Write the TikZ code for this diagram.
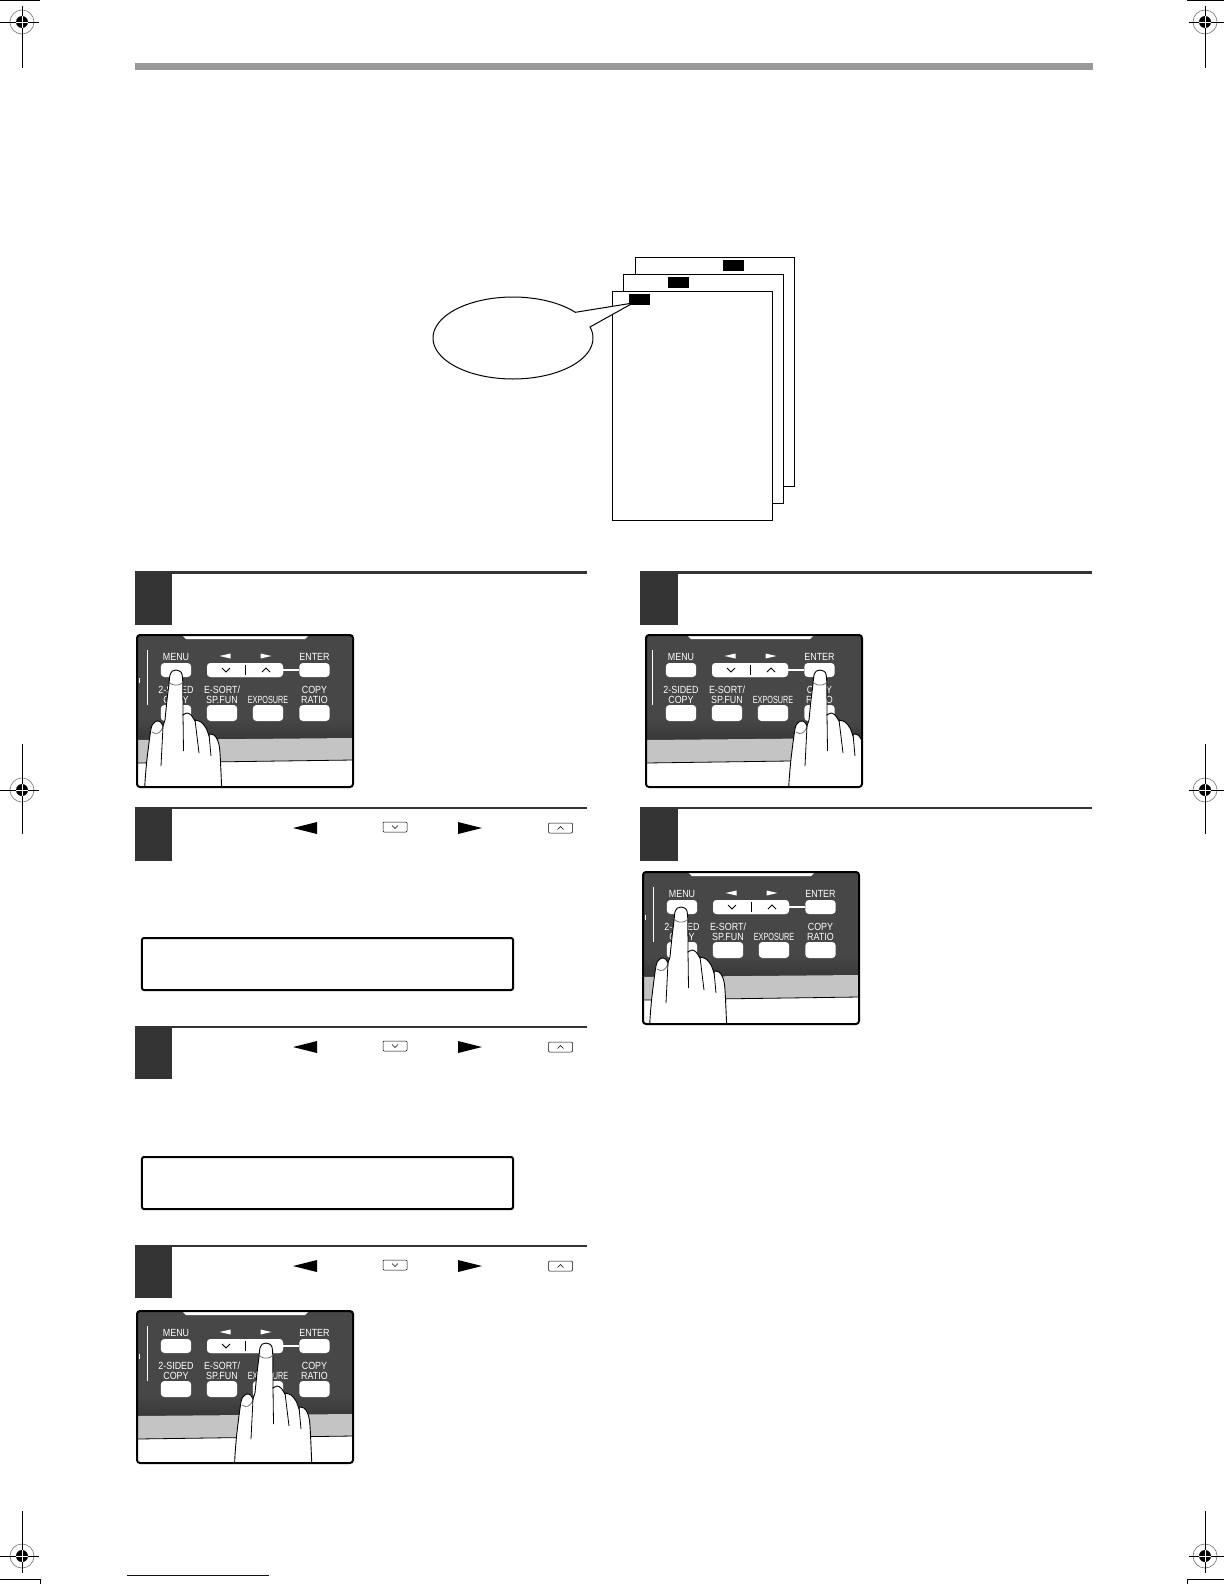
\documentclass[tikz,border=0pt]{standalone}
\usepackage{fontspec}
\setmainfont{Liberation Sans}
\newfontfamily\panelfont[FakeStretch=.86]{Liberation Sans}
\newfontfamily\exposurefont[FakeStretch=.70]{Liberation Sans}
\definecolor{paneldark}{HTML}{474747}
\definecolor{panelshade}{HTML}{383838}
\definecolor{panelband}{HTML}{C4C4C4}
\definecolor{stepdark}{HTML}{333333}
\definecolor{footblue}{HTML}{000080}
\tikzset{
  paneltext/.style={text=white,inner sep=0,align=center,font=\panelfont\fontsize{5.2}{5}\selectfont},
  panelkey/.style={fill=white,inner sep=0,rounded corners=1.8bp,minimum width=15.2bp,minimum height=7bp},
  panelkeylow/.style={panelkey,minimum height=8bp},
  keyicon/.style={draw,line width=.25bp,fill=white,inner sep=0,rounded corners=.5bp,minimum width=12bp,minimum height=5bp},
  sheet/.style={draw,line width=.5bp,fill=white},
  thinrule/.style={stepdark,line width=1bp},
  thickrule/.style={stepdark,line width=1.5bp},
  lcdbox/.style={draw,line width=1bp,fill=white,inner sep=0,rounded corners=1bp,minimum width=185.5bp,minimum height=26bp},
}
% panel: name, x, y, finger x, finger y, offset of the keys
\newcommand{\ctrlpanel}[6]{
\begin{scope}[shift={(#2,#3)}]
\begin{scope}
\clip [rounded corners=1.5bp] (0,0) rectangle (216,152);
\fill [white] (0,0) rectangle (216,152);
\fill [paneldark] (0,0) rectangle (216,104);
\shade [top color=paneldark,bottom color=panelshade] (0,84) rectangle (216,104.5);
\fill [panelband] (0,105) -- (216,103) -- (216,125) -- (0,128) -- cycle;
\draw [line width=.4bp] (0,128) -- (216,125);
\begin{scope}[shift={(#6,0)}]
\fill [white] (45,0) -- (172,0) -- (168,4) -- (49,4) -- cycle;
\draw [white,line width=.5bp] (10,15) -- (10,70);
\draw [white,line width=.5bp] (2.5,43) -- (2.5,48);
\node [panelkey]    (#1menu)  at ( 39,35) {};
\node [panelkey,minimum width=38bp] (#1wide) at (108,35) {};
\node [panelkey]    (#1enter) at (177.5,35) {};
\node [panelkeylow] (#1two)   at ( 39,78) {};
\node [panelkeylow] (#1sort)  at ( 85,78) {};
\node [panelkeylow] (#1expo)  at (131,78) {};
\node [panelkeylow] (#1ratio) at (177.5,78) {};
\draw [white,line width=.6bp] (#1wide) -- (#1enter);
\node [panelkey,minimum width=38bp] at (#1wide) {};
\draw [line width=.5bp] (108,30) -- (108,40);
\draw [line width=.5bp] (85,33) -- (89,37) -- (93,33);
\draw [line width=.5bp] (125,37) -- (129,33) -- (133,37);
\fill [white] (82.5,21) -- (93.5,18.5) -- (93.5,23.5) -- cycle;
\fill [white] (134.5,21) -- (123.5,18.5) -- (123.5,23.5) -- cycle;
\node [paneltext] (#1menutext)  at ( 39,22) {MENU};
\node [paneltext] (#1entertext) at (177.5,22) {ENTER};
\node [paneltext] (#1twotext)   at ( 39,60) {2-SIDED\\COPY};
\node [paneltext] (#1sorttext)  at ( 85,60) {E-SORT/\\SP.FUN};
\node [paneltext,font=\exposurefont\fontsize{5.2}{5}\selectfont] (#1expotext) at (131,65) {EXPOSURE};
\node [paneltext] (#1ratiotext) at (177.5,60) {COPY\\RATIO};
\end{scope}
% hand
\begin{scope}[shift={(#4,#5)}]
\draw [fill=white,line width=.45bp] plot [smooth,tension=.5] coordinates {
  (-31.5,126) (-31,112) (-29,89) (-25,59) (-22,53) (-19,51) (-15.5,52) (-13,56)}
  -- plot [smooth,tension=.5] coordinates {
  (-11,50) (-9,30) (-7,14) (-6,5) (-3.5,1) (0,0) (3.5,1) (6,4) (6.8,14) (7,44)}
  -- plot [smooth,tension=.5] coordinates {
  (7,45) (11,43) (15,45) (19,51)}
  -- plot [smooth,tension=.5] coordinates {
  (19,50) (25,52) (30,58) (33,66)}
  -- plot [smooth,tension=.5] coordinates {
  (33,64) (38,65) (42,71) (44,83) (46,126)} -- cycle;
\draw [black!60,line width=.35bp] (-6.6,11) .. controls (-6.6,16.5) and (6.6,16.5) .. (6.6,11);
\draw [black!60,line width=.35bp] (-24,62) .. controls (-20,65) and (-15,64) .. (-13,56);
\draw [line width=.4bp] (-13,56) -- (-15,96);
\draw [line width=.4bp] (7,44) -- (7.5,81);
\draw [line width=.4bp] (19,50) -- (23,83);
\draw [line width=.4bp] (33,64) -- (35,86);
\end{scope}
\end{scope}
\draw [line width=1bp,rounded corners=1.5bp] (0,0) rectangle (216,152);
\end{scope}
}
% icons of one step line: y
\newcommand{\stepicons}[2]{
\fill (293,#2) -- ++(24,-6) -- ++(0,12) -- cycle;
\node [keyicon] (#1down) at (395,#2-1) {};
\draw [line width=.3bp] (392,#2-2.5) -- (395,#2+.5) -- (398,#2-2.5);
\fill (482,#2) -- ++(-24,-6) -- ++(0,12) -- cycle;
\node [keyicon] (#1up) at (560.5,#2) {};
\draw [line width=.3bp] (557.5,#2+1.5) -- (560.5,#2-1.5) -- (563.5,#2+1.5);
}
% registration mark: name, x, y, line ends
\newcommand{\regmark}[7]{
\coordinate (#1) at (#2,#3);
\draw [gray,line width=.35bp] (#1) circle [radius=12];
\draw [line width=.5bp] (#4,#3) -- (#5,#3) (#2,#6) -- (#2,#7);
\fill (#1) circle [radius=6];
\draw [white,line width=.35bp] (#2-6,#3) -- (#2+6,#3) (#2,#3-6) -- (#2,#3+6);
}
\begin{document}
\begin{tikzpicture}[x=.5bp,y=-.5bp]
\useasboundingbox (0,0) rectangle (1224,1584);

% page marks
\regmark{marktl}{22}{22}{0}{39}{6}{68}
\regmark{marktr}{1205}{22}{1189}{1224}{6}{68}
\regmark{markml}{22}{790}{0}{39}{744}{834}
\regmark{markmr}{1205}{790}{1189}{1224}{744}{834}
\regmark{markbl}{22}{1556}{0}{39}{1511}{1573}
\regmark{markbr}{1205}{1556}{1189}{1224}{1511}{1573}
\draw [line width=.5bp] (0,.5) -- (40,.5);
\draw [line width=.5bp] (1187,.5) -- (1224,.5);
\draw [line width=.5bp] (0,1579) -- (40,1579) -- (40,1584);
\draw [line width=.5bp] (1187,1584) -- (1187,1579) -- (1224,1579);
\draw [footblue,line width=.5bp] (127,1575) -- (269,1575);
\fill [black!40] (135,63) rectangle (1093,70);

% sheets
\draw [sheet] (635,257) rectangle (794.5,486);
\fill (723,260) rectangle (744,271);
\draw [sheet] (623,274) rectangle (783,503);
\fill (668,277) rectangle (689,288);
\draw [sheet] (612,291) rectangle (772,520);
\fill (629,294) rectangle (650,305);
\draw [sheet] plot [domain=-15.6:321.2,samples=90] ({513+80*cos(\x)},{338+41*sin(\x)})
  -- (633,303) -- cycle;

% steps, left column
\fill [stepdark] (135,571) rectangle (172,625);
\draw [thickrule] (135,572) -- (587,572);
\ctrlpanel{one}{137}{635}{39}{35}{0}
\fill [stepdark] (135,807) rectangle (172,861);
\draw [thinrule] (135,808) -- (587,808);
\stepicons{two}{828}
\node [lcdbox] (lcda) at (327.5,964) {};
\fill [stepdark] (135,1026) rectangle (172,1079);
\draw [thinrule] (135,1027) -- (587,1027);
\stepicons{three}{1047}
\node [lcdbox] (lcdb) at (327.5,1183) {};
\fill [stepdark] (135,1245) rectangle (172,1298);
\draw [thinrule] (135,1246) -- (587,1246);
\stepicons{four}{1266}
\ctrlpanel{five}{137}{1311}{129}{32}{0}

% steps, right column
\fill [stepdark] (640,571) rectangle (678,625);
\draw [thickrule] (640,572) -- (1092,572);
\ctrlpanel{six}{646}{635}{174}{35}{-4}
\fill [stepdark] (640,807) rectangle (678,861);
\draw [thinrule] (640,808) -- (1092,808);
\ctrlpanel{seven}{643}{872}{38}{35}{0}
\end{tikzpicture}
\end{document}
